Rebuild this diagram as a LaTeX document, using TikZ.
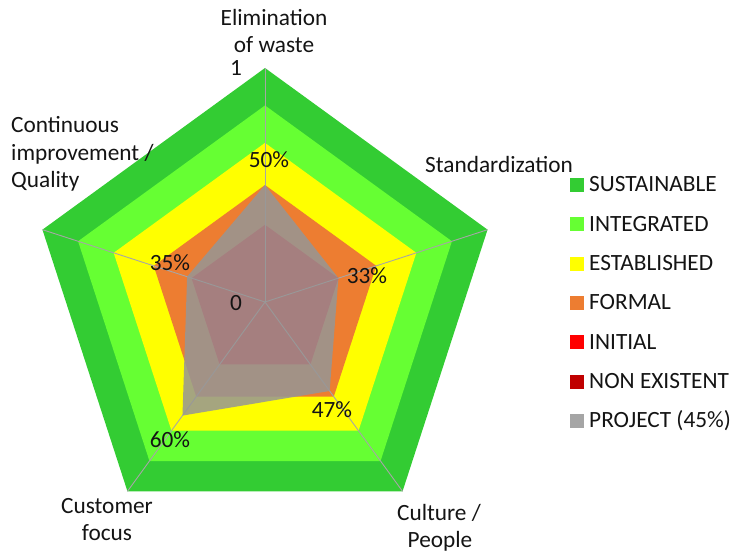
\documentclass[tikz,border=0pt]{standalone}
\usepackage{fontspec}
\setmainfont{Carlito}
\definecolor{cSus}{HTML}{33CC33}
\definecolor{cInt}{HTML}{66FF33}
\definecolor{cEst}{HTML}{FFFF00}
\definecolor{cFor}{HTML}{ED7D31}
\definecolor{cIni}{HTML}{FF0000}
\definecolor{cNon}{HTML}{C00000}
\definecolor{cPro}{HTML}{969696}
\definecolor{cLeg}{HTML}{A5A5A5}
\definecolor{cGrid}{HTML}{A6A6A6}
\definecolor{cText}{HTML}{141414}
\begin{document}
\begin{tikzpicture}[x=1pt,y=-1pt,
  txt/.style={font=\fontsize{23.3}{28}\selectfont, text=cText, inner sep=0pt, anchor=base},
  ltxt/.style={txt, anchor=base west},
  legsq/.style={minimum size=14pt, inner sep=0pt, draw=none},
  spoke/.style={draw=cGrid, line width=0.9pt}]
\useasboundingbox (0,0) rectangle (730,553);
\coordinate (O) at (265,302);
\begin{scope}[shift={(O)}]
  \fill[cSus] plot[samples at={90,18,-54,-126,162}] (\x:{1.00*234pt}) -- cycle;
  \fill[cInt] plot[samples at={90,18,-54,-126,162}] (\x:{0.84*234pt}) -- cycle;
  \fill[cEst] plot[samples at={90,18,-54,-126,162}] (\x:{0.68*234pt}) -- cycle;
  \fill[cFor] plot[samples at={90,18,-54,-126,162}] (\x:{0.50*234pt}) -- cycle;
  \fill[cIni] plot[samples at={90,18,-54,-126,162}] (\x:{0.33*234pt}) -- cycle;
  \foreach \a/\n in {90/vt,18/vr,-54/vbr,-126/vbl,162/vl}
    \coordinate (\n) at (\a:234pt);
  \foreach \n in {vt,vr,vbr,vbl,vl}
    \draw[spoke] (O) -- (\n);
  \fill[cPro, fill opacity=0.85] (90:{0.50*234pt}) -- (18:{0.33*234pt}) -- (-54:{0.47*234pt}) -- (-126:{0.60*234pt}) -- (162:{0.35*234pt}) -- cycle;
\end{scope}

% axis labels
\node[txt] (ax1a) at (274,26) {Elimination};
\node[txt] (ax1b) at (274,53) {of waste};
\node[txt] (one) at (236,76) {1};
\node[ltxt] (ax2) at (425,173) {Standardization};
\node[txt] (ax3a) at (439,520) {Culture /};
\node[txt] (ax3b) at (440,547) {People};
\node[txt] (ax4a) at (107,513) {Customer};
\node[txt] (ax4b) at (107,540) {focus};
\node[ltxt] (ax5a) at (11,133) {Continuous};
\node[ltxt] (ax5b) at (11,160.5) {improvement /};
\node[ltxt] (ax5c) at (11,188) {Quality};

% data labels
\node[txt] (d1) at (269,168) {50\%};
\node[txt] (d2) at (367,283) {33\%};
\node[txt] (d3) at (332,417) {47\%};
\node[txt] (d4) at (170,447) {60\%};
\node[txt] (d5) at (170,270) {35\%};
\node[txt] (zero) at (236,310) {0};

% legend
\foreach \i/\c/\t in {0/cSus/SUSTAINABLE,1/cInt/INTEGRATED,2/cEst/ESTABLISHED,3/cFor/FORMAL,4/cIni/INITIAL,5/cNon/NON EXISTENT,6/cLeg/PROJECT (45\%)}{
  \node[legsq, fill=\c] (sq\i) at (577,{185+39.3*\i}) {};
  \node[ltxt] (lt\i) at (589,{192+39.3*\i}) {\t};
}
\end{tikzpicture}
\end{document}
